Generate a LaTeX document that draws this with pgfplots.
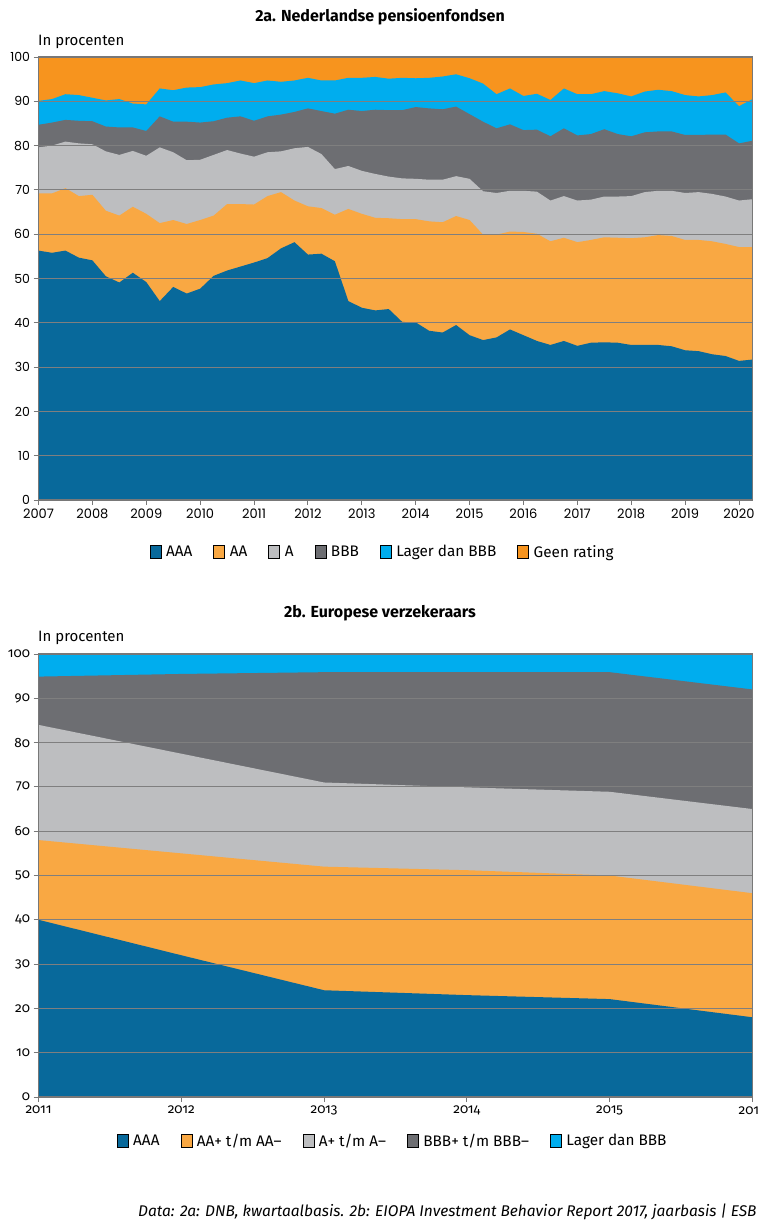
\documentclass[border=0pt]{standalone}
\usepackage{fontspec}
\setmainfont{Fira Sans}
\newfontfamily\tickfont{Poppins}
\newfontfamily\osfont[Numbers=OldStyle]{Fira Sans}
\usepackage{pgfplots}
\usepackage{pgfplotstable}
\pgfplotsset{compat=1.18}

\definecolor{caaa}{HTML}{08699B}
\definecolor{caa}{HTML}{F9A843}
\definecolor{ca}{HTML}{BDBEC0}
\definecolor{cbbb}{HTML}{6D6E72}
\definecolor{clg}{HTML}{00ADEE}
\definecolor{cgeen}{HTML}{F7941E}
\definecolor{cgrid}{HTML}{7F7F7F}
\definecolor{caxis}{HTML}{787878}

% cumulative upper boundaries of each layer (in procenten)
\pgfplotstableread{
x       aaa  aa   a    bbb  lg   tot
2007.00 56.3 69.2 79.6 84.7 90.1 100
2007.25 55.8 69.2 80.0 85.2 90.5 100
2007.50 56.3 70.4 80.9 85.8 91.6 100
2007.75 54.7 68.6 80.5 85.6 91.4 100
2008.00 54.1 68.9 80.3 85.5 90.8 100
2008.25 50.5 65.3 78.7 84.3 90.2 100
2008.50 49.1 64.2 77.9 84.1 90.5 100
2008.75 51.3 66.2 78.8 84.1 89.5 100
2009.00 49.2 64.6 77.7 83.3 89.3 100
2009.25 44.9 62.5 79.6 86.6 92.9 100
2009.50 48.1 63.2 78.5 85.4 92.5 100
2009.75 46.6 62.3 76.7 85.4 93.1 100
2010.00 47.7 63.2 76.8 85.2 93.2 100
2010.25 50.6 64.2 77.9 85.5 93.8 100
2010.50 51.8 66.8 79.0 86.3 94.1 100
2010.75 52.7 66.8 78.2 86.6 94.7 100
2011.00 53.6 66.7 77.5 85.6 94.1 100
2011.25 54.6 68.6 78.5 86.6 94.7 100
2011.50 56.8 69.5 78.7 87.0 94.4 100
2011.75 58.2 67.6 79.4 87.6 94.7 100
2012.00 55.4 66.3 79.7 88.4 95.3 100
2012.25 55.6 65.9 78.1 87.8 94.7 100
2012.50 53.9 64.4 74.7 87.2 94.7 100
2012.75 44.9 65.7 75.4 88.1 95.3 100
2013.00 43.4 64.6 74.3 87.8 95.3 100
2013.25 42.8 63.7 73.6 88.1 95.5 100
2013.50 43.1 63.6 73.0 88.0 95.1 100
2013.75 40.2 63.4 72.6 88.0 95.3 100
2014.00 40.1 63.4 72.5 88.7 95.2 100
2014.25 38.2 62.9 72.3 88.4 95.3 100
2014.50 37.8 62.7 72.3 88.2 95.6 100
2014.75 39.5 64.1 73.1 88.8 96.1 100
2015.00 37.2 63.2 72.5 87.1 95.2 100
2015.25 36.1 59.9 69.7 85.4 94.0 100
2015.50 36.7 59.9 69.3 83.9 91.6 100
2015.75 38.5 60.6 69.8 84.8 92.9 100
2016.00 37.2 60.5 69.8 83.5 91.2 100
2016.25 35.9 60.1 69.6 83.6 91.7 100
2016.50 35.0 58.4 67.6 82.1 90.3 100
2016.75 35.9 59.2 68.6 83.9 92.9 100
2017.00 34.8 58.2 67.6 82.3 91.6 100
2017.25 35.5 58.7 67.8 82.6 91.6 100
2017.50 35.6 59.3 68.5 83.7 92.3 100
2017.75 35.5 59.2 68.5 82.6 91.8 100
2018.00 35.0 59.1 68.6 82.1 91.1 100
2018.25 35.0 59.3 69.5 83.0 92.2 100
2018.50 35.0 59.8 69.8 83.2 92.6 100
2018.75 34.7 59.6 69.8 83.2 92.3 100
2019.00 33.8 58.7 69.3 82.4 91.4 100
2019.25 33.6 58.7 69.5 82.4 91.1 100
2019.50 32.9 58.4 69.1 82.5 91.4 100
2019.75 32.5 57.8 68.5 82.5 92.0 100
2020.00 31.4 57.1 67.6 80.5 88.9 100
2020.25 31.7 57.1 67.9 81.1 90.5 100
}\topdata

\pgfplotstableread{
x    aaa  aa   a    bbb  tot
2011 40.0 58.0 84.0 94.9 100
2012 32.0 55.0 77.5 95.5 100
2013 24.1 52.0 71.0 95.9 100
2014 23.0 51.2 69.9 95.9 100
2015 22.1 50.0 68.9 95.9 100
2016 18.0 46.0 65.0 92.0 100
}\botdata

\pgfplotsset{
  esbstyle/.style={
    scale only axis, width=714pt, height=443pt, anchor=south west,
    ymin=0, ymax=100, ytick={0,10,...,100},
    axis on top, ymajorgrids,
    grid style={color=cgrid, line width=1.1pt},
    axis line style={color=caxis, line width=1.6pt},
    tick style={color=caxis, line width=0.9pt},
    tick align=outside, major tick length=5pt, minor tick length=4pt,
    xtick pos=bottom, ytick pos=left,
    /pgf/number format/assume math mode=true,
    /pgf/number format/1000 sep={},
    legend image code/.code={\fill[##1] (0pt,-6.5pt) rectangle (11pt,6.5pt);},
    legend style={draw=none, fill=none, anchor=center, legend columns=-1,
      font=\fontsize{15.3}{15.3}\selectfont,
      /tikz/every odd column/.append style={column sep=3pt},
      /tikz/every even column/.append style={column sep=19pt}},
  }
}

\begin{document}
\begin{tikzpicture}
\useasboundingbox (0,0) rectangle (758pt,-1221pt);

% ---------- 2a ----------
\begin{axis}[esbstyle,
  at={(38.5pt,-500pt)},
  xmin=2007, xmax=2020.25,
  xtick={2007,...,2020}, minor x tick num=3,
  xticklabel style={font=\tickfont\fontsize{13}{13}\selectfont},
  yticklabel style={font=\tickfont\fontsize{12.5}{12.5}\selectfont},
  legend style={at={(0.482,-0.117)}},
]
\addlegendimage{fill=caaa}
\addlegendimage{fill=caa}
\addlegendimage{fill=ca}
\addlegendimage{fill=cbbb}
\addlegendimage{fill=clg}
\addlegendimage{fill=cgeen}
\addplot[fill=cgeen, draw=none, forget plot] table[x=x, y=tot] {\topdata} \closedcycle;
\addplot[fill=clg, draw=none, forget plot] table[x=x, y=lg] {\topdata} \closedcycle;
\addplot[fill=cbbb, draw=none, forget plot] table[x=x, y=bbb] {\topdata} \closedcycle;
\addplot[fill=ca, draw=none, forget plot] table[x=x, y=a] {\topdata} \closedcycle;
\addplot[fill=caa, draw=none, forget plot] table[x=x, y=aa] {\topdata} \closedcycle;
\addplot[fill=caaa, draw=none, forget plot] table[x=x, y=aaa] {\topdata} \closedcycle;
\legend{AAA, AA, A, BBB, Lager dan BBB, Geen rating}
\end{axis}

% ---------- 2b ----------
\begin{axis}[esbstyle,
  at={(38.5pt,-1097pt)},
  xmin=2011, xmax=2016,
  xtick={2011,...,2016},
  xticklabel style={font=\osfont\fontsize{13.5}{13.5}\selectfont},
  yticklabel style={font=\osfont\fontsize{13.5}{13.5}\selectfont},
  legend style={at={(0.496,-0.099)}},
]
\addlegendimage{fill=caaa}
\addlegendimage{fill=caa}
\addlegendimage{fill=ca}
\addlegendimage{fill=cbbb}
\addlegendimage{fill=clg}
\addplot[fill=clg, draw=none, forget plot] table[x=x, y=tot] {\botdata} \closedcycle;
\addplot[fill=cbbb, draw=none, forget plot] table[x=x, y=bbb] {\botdata} \closedcycle;
\addplot[fill=ca, draw=none, forget plot] table[x=x, y=a] {\botdata} \closedcycle;
\addplot[fill=caa, draw=none, forget plot] table[x=x, y=aa] {\botdata} \closedcycle;
\addplot[fill=caaa, draw=none, forget plot] table[x=x, y=aaa] {\botdata} \closedcycle;
\legend{AAA, AA+ t/m AA–, A+ t/m A–, BBB+ t/m BBB–, Lager dan BBB}
\end{axis}

% titles and notes
\node[font=\bfseries\fontsize{16}{16}\selectfont] at (380pt,-17pt) {2a. Nederlandse pensioenfondsen};
\node[anchor=west, font=\fontsize{15}{15}\selectfont, inner sep=0pt] at (38pt,-42pt) {In procenten};
\node[font=\bfseries\fontsize{16}{16}\selectfont] at (380pt,-613pt) {2b. Europese verzekeraars};
\node[anchor=west, font=\fontsize{15}{15}\selectfont, inner sep=0pt] at (38pt,-638pt) {In procenten};
\node[anchor=west, font=\itshape\fontsize{15.5}{15.5}\selectfont, inner sep=0pt] at (138pt,-1212pt) {Data: 2a: DNB, kwartaalbasis. 2b: EIOPA Investment Behavior Report 2017, jaarbasis | ESB};
\end{tikzpicture}
\end{document}
